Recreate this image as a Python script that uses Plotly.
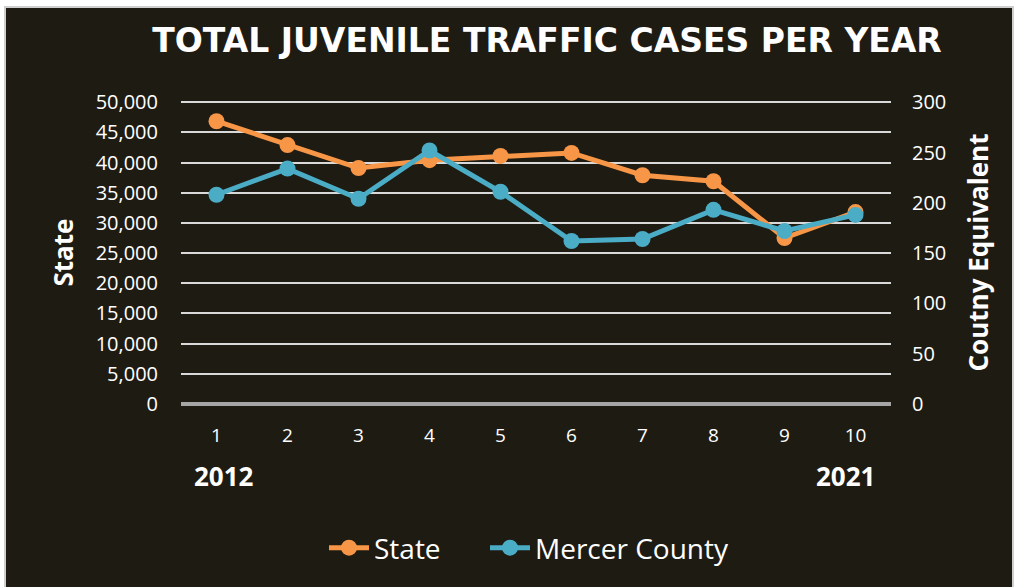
import plotly.graph_objects as go

# data
years = [1, 2, 3, 4, 5, 6, 7, 8, 9, 10]
state_cases = [46850, 42900, 39100, 40400, 41100, 41600, 37900, 36900, 27500, 31800]
mercer_cases = [208, 234, 204, 252, 211, 162, 164, 193, 172, 188]
left_ticks = list(range(0, 50001, 5000))
right_ticks = list(range(0, 301, 50))

BG = '#1e1b13'
ORANGE = '#f79646'
BLUE = '#4bacc6'
FONT = 'Open Sans'

fig = go.Figure()
fig.add_trace(go.Scatter(
    x=years, y=state_cases, name='State', mode='lines+markers',
    legend='legend', showlegend=True,
    line=dict(color=ORANGE, width=5), marker=dict(size=16, color=ORANGE),
))
fig.add_trace(go.Scatter(
    x=years, y=mercer_cases, name='Mercer County', mode='lines+markers', yaxis='y2',
    legend='legend2', showlegend=True,
    line=dict(color=BLUE, width=5), marker=dict(size=16, color=BLUE),
))

# plot area in pixels: x 181..891, y ~101..404 (a little headroom so the top gridline shows)
pad = 1.004
L, R, T, B = 181, 127, 101, 183
pw, ph = 1018 - L - R, 587 - T - B


def px_x(p):
    return (p - L) / pw


def px_y(p):
    return (587 - B - p) / ph


legend_style = dict(
    orientation='h', xanchor='left', y=px_y(548), yanchor='middle',
    font=dict(size=28), bgcolor='rgba(0,0,0,0)', itemwidth=40,
)

fig.update_layout(
    width=1018, height=587,
    margin=dict(l=L, r=R, t=T, b=B, autoexpand=False),
    paper_bgcolor='white',
    plot_bgcolor=BG,
    font=dict(family=FONT, color='white', size=20),
    title=dict(
        text='TOTAL JUVENILE TRAFFIC CASES PER YEAR',
        font=dict(family='DejaVu Sans', size=33, weight='bold', color='white'),
        x=px_x(547), xref='paper', xanchor='center',
        y=1 - 40 / 587, yanchor='middle',
    ),
    xaxis=dict(
        type='category', tickvals=years, ticktext=[str(v) for v in years],
        range=[-0.5, len(years) - 0.5],
        showgrid=False, zeroline=False, showline=False, ticks='',
        ticklabelstandoff=18, tickfont=dict(size=19), automargin=False,
    ),
    yaxis=dict(
        range=[0, 50000 * pad], tickvals=left_ticks, tickformat=',',
        showgrid=True, gridcolor='#d9d9d9', gridwidth=2,
        zeroline=True, zerolinecolor='#a6a6a6', zerolinewidth=4,
        ticks='', ticklabelstandoff=22, automargin=False,
        title=dict(text='State', font=dict(size=26, weight='bold'), standoff=14),
    ),
    yaxis2=dict(
        range=[0, 300 * pad], tickvals=right_ticks, overlaying='y', side='right',
        showgrid=False, zeroline=False, ticks='', ticklabelstandoff=20, automargin=False,
        title=dict(text='Coutny Equivalent', font=dict(size=26, weight='bold'), standoff=24),
    ),
    legend=dict(x=px_x(324), **legend_style),
    legend2=dict(x=px_x(485), **legend_style),
    shapes=[dict(
        type='rect', xref='paper', yref='paper', layer='below',
        x0=px_x(5), x1=px_x(1013), y0=px_y(592), y1=px_y(7),
        fillcolor=BG, line=dict(color='#cfcfcf', width=2),
    )],
    annotations=[
        dict(text='2012', x=px_x(224), y=px_y(476), xref='paper', yref='paper',
             xanchor='center', yanchor='middle',
             showarrow=False, font=dict(size=26, weight='bold')),
        dict(text='2021', x=px_x(845), y=px_y(476), xref='paper', yref='paper',
             xanchor='center', yanchor='middle',
             showarrow=False, font=dict(size=26, weight='bold')),
    ],
)

# drop the page's default body margin so the figure sits at the window's corner
fig.write_html('out.html', config={'displayModeBar': False},
               post_script="document.body.style.margin='0';")
